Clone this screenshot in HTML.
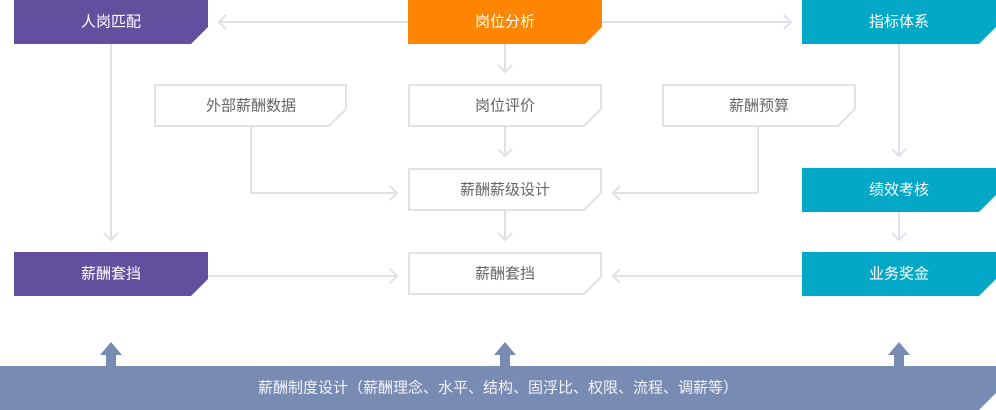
<!DOCTYPE html>
<html>
<head>
<meta charset="utf-8">
<style>
html,body{margin:0;padding:0;background:#fff;}
svg{display:block;}
text{font-family:"Liberation Sans","Noto Sans CJK SC",sans-serif;font-size:15px;}
</style>
</head>
<body>
<svg width="996" height="410" viewBox="0 0 996 410" xmlns="http://www.w3.org/2000/svg">
  <g fill="none" stroke="#dfe1e6" stroke-width="2">
    <!-- top horizontal connectors -->
    <line x1="408" y1="22" x2="219" y2="22"/>
    <polyline points="226,15 219,22 226,29"/>
    <line x1="602" y1="22" x2="791" y2="22"/>
    <polyline points="784,15 791,22 784,29"/>
    <!-- 岗位分析 down -->
    <line x1="505" y1="44" x2="505" y2="72"/>
    <polyline points="498,65 505,72 512,65"/>
    <!-- 岗位评价 down -->
    <line x1="505" y1="127" x2="505" y2="156"/>
    <polyline points="498,149 505,156 512,149"/>
    <!-- 薪级设计 down -->
    <line x1="505" y1="211" x2="505" y2="240"/>
    <polyline points="498,233 505,240 512,233"/>
    <!-- 外部薪酬数据 to 薪级设计 -->
    <polyline points="251,127 251,193 397,193"/>
    <polyline points="390,186 397,193 390,200"/>
    <!-- 薪酬预算 to 薪级设计 -->
    <polyline points="758,127 758,193 613,193"/>
    <polyline points="620,186 613,193 620,200"/>
    <!-- 人岗匹配 down -->
    <line x1="111" y1="44" x2="111" y2="240"/>
    <polyline points="104,233 111,240 118,233"/>
    <!-- 指标体系 down -->
    <line x1="899" y1="44" x2="899" y2="156"/>
    <polyline points="892,149 899,156 906,149"/>
    <!-- 绩效考核 down -->
    <line x1="899" y1="212" x2="899" y2="240"/>
    <polyline points="892,233 899,240 906,233"/>
    <!-- 薪酬套挡 purple to middle -->
    <line x1="208" y1="276" x2="397" y2="276"/>
    <polyline points="390,269 397,276 390,283"/>
    <!-- 业务奖金 to middle -->
    <line x1="802" y1="276" x2="613" y2="276"/>
    <polyline points="620,269 613,276 620,283"/>
  </g>

  <!-- filled boxes -->
  <path d="M14,0 H208 V27 L191,44 H14 Z" fill="#624f9d"/>
  <path d="M408,0 H602 V27 L585,44 H408 Z" fill="#ff8502"/>
  <path d="M802,0 H996 V27 L979,44 H802 Z" fill="#03a8c6"/>
  <path d="M14,252 H208 V279 L191,296 H14 Z" fill="#624f9d"/>
  <path d="M802,168 H996 V195 L979,212 H802 Z" fill="#03a8c6"/>
  <path d="M802,252 H996 V279 L979,296 H802 Z" fill="#03a8c6"/>

  <!-- outlined boxes -->
  <g fill="#fff" stroke="#e0e2e6" stroke-width="2">
    <path d="M155,85 H346 V109 L329,126 H155 Z"/>
    <path d="M409,85 H601 V109 L584,126 H409 Z"/>
    <path d="M663,85 H855 V109 L838,126 H663 Z"/>
    <path d="M409,169 H601 V193 L584,210 H409 Z"/>
    <path d="M409,253 H601 V277 L584,294 H409 Z"/>
  </g>

  <!-- bottom bar -->
  <path d="M0,366 H996 V393 L979,410 H0 Z" fill="#788bb3"/>
  <g fill="#788bb3">
    <path d="M111,342 L122,355 H116 V366 H106 V355 H100 Z"/>
    <path d="M505,342 L516,355 H510 V366 H500 V355 H494 Z"/>
    <path d="M899,342 L910,355 H904 V366 H894 V355 H888 Z"/>
  </g>

  <!-- labels -->
  <g fill="#ffffff" text-anchor="middle" dominant-baseline="central">
    <text x="111" y="22">人岗匹配</text>
    <text x="505" y="22">岗位分析</text>
    <text x="899" y="22">指标体系</text>
    <text x="111" y="274">薪酬套挡</text>
    <text x="899" y="190">绩效考核</text>
    <text x="899" y="274">业务奖金</text>
  </g>
  <g fill="#666666" text-anchor="middle" dominant-baseline="central">
    <text x="251" y="106">外部薪酬数据</text>
    <text x="505" y="106">岗位评价</text>
    <text x="759" y="106">薪酬预算</text>
    <text x="505" y="190">薪酬薪级设计</text>
    <text x="505" y="274">薪酬套挡</text>
  </g>
  <text x="498" y="388" fill="#f2f3f8" text-anchor="middle" dominant-baseline="central">薪酬制度设计（薪酬理念、水平、结构、固浮比、权限、流程、调薪等）</text>
</svg>
</body>
</html>
